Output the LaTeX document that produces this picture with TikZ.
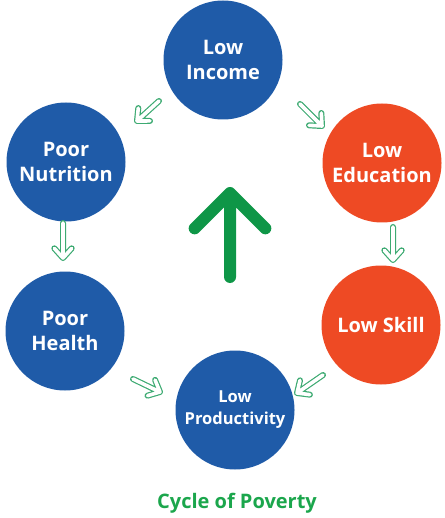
\documentclass[tikz,border=0pt]{standalone}
\usepackage{fontspec}
\setmainfont{Open Sans}
\usepackage{tikz}
\usepackage{xcolor}
\usetikzlibrary{calc}

\definecolor{cycblue}{HTML}{1F5BA8}
\definecolor{cycred}{HTML}{EE4A24}
\definecolor{cycgreen}{HTML}{0E9647}
\definecolor{cyclight}{HTML}{3DAA72}
\definecolor{cyctitle}{HTML}{1BA64C}

% outlined arrow: shaft plus chevron
\newcommand{\cycarrow}[2]{%
  \draw[smallarrow] (#1) -- (#2)
    ($(#2)!13pt!42:(#1)$) -- (#2) -- ($(#2)!13pt!-42:(#1)$);
}

\begin{document}
\begin{tikzpicture}[
    x=1pt, y=-1pt,
    stage/.style={circle, minimum size=119pt, inner sep=0pt, text=white, align=center,
                  font=\fontsize{20}{24.5}\selectfont\bfseries},
    smallarrow/.style={draw=cyclight, line width=1.2pt, double=white, double distance=3.6pt,
                       line cap=round, line join=round}
]
\useasboundingbox (0,0) rectangle (444,518);

% stages of the cycle
\node[stage, fill=cycblue] (income) at (223,60) {Low\\Income};
\node[stage, fill=cycred] (educ) at (382,163) {Low\\Education};
\node[stage, fill=cycred] (skill) at (381,325) {Low Skill};
\node[stage, fill=cycblue, font=\fontsize{16.5}{22}\selectfont\bfseries] (prod) at (235,410) {Low\\Productivity};
\node[stage, fill=cycblue] (health) at (65,331) {Poor\\Health};
\node[stage, fill=cycblue] (nutr) at (66,162) {Poor\\Nutrition};

% small arrows between the stages
\coordinate (a1s) at (159,101); \coordinate (a1e) at (137,121);
\coordinate (a2s) at (300,104); \coordinate (a2e) at (322,126);
\coordinate (a3s) at (63,223);  \coordinate (a3e) at (63,258);
\coordinate (a4s) at (393,227); \coordinate (a4e) at (393,260);
\coordinate (a5s) at (133,379); \coordinate (a5e) at (160,392);
\coordinate (a6s) at (323,375); \coordinate (a6e) at (297,393);
\cycarrow{a2s}{a2e}
\cycarrow{a4s}{a4e}
\cycarrow{a6s}{a6e}
\cycarrow{a5s}{a5e}
\cycarrow{a3s}{a3e}
\cycarrow{a1s}{a1e}

% big arrow in the middle
\coordinate (bigtail) at (230,277);
\coordinate (bigtip) at (230,193);
\draw[cycgreen, line width=12pt, line cap=round, line join=round]
  (bigtail) -- (bigtip)
  ($(bigtip)!50pt!45:(bigtail)$) -- (bigtip) -- ($(bigtip)!50pt!-45:(bigtail)$);

% title
\node[text=cyctitle, font=\fontsize{20}{24}\selectfont\bfseries] (title) at (237,503) {Cycle of Poverty};

\end{tikzpicture}
\end{document}
